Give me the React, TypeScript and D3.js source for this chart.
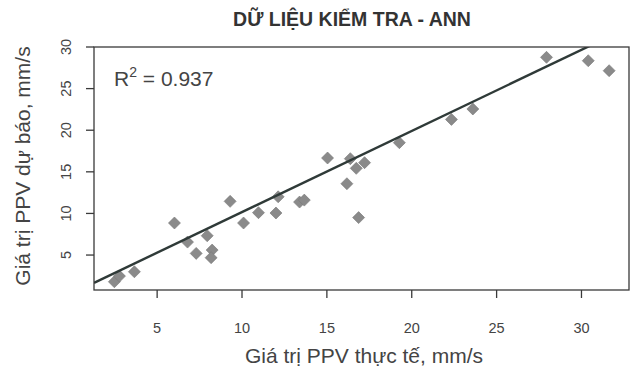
import React from 'react';
import * as d3 from 'd3';

// measured (actual) PPV, mm/s
const actual = [2.48, 2.78, 3.66, 6.02, 6.79, 7.3, 7.95, 8.24, 8.18, 9.3, 10.09, 10.97, 12.0, 12.13,
  13.39, 13.67, 15.04, 16.38, 16.18, 16.73, 16.87, 17.22, 19.27, 22.34, 23.6, 27.94, 30.4, 31.63];
// ANN predicted PPV, mm/s
const predicted = [1.79, 2.47, 2.99, 8.85, 6.56, 5.2, 7.32, 5.6, 4.68, 11.45, 8.85, 10.09, 10.05, 12.0,
  11.37, 11.6, 16.66, 16.58, 13.57, 15.42, 9.5, 16.1, 18.5, 21.3, 22.55, 28.76, 28.35, 27.15];

const xTicks = [5, 10, 15, 20, 25, 30];
const yTicks = [5, 10, 15, 20, 25, 30];

// fitted line
const fitSlope = 0.975;
const fitIntercept = 0.41;
const r2Label = '0.937';

const W = 637, H = 374;
const margin = { top: 47, right: 8, bottom: 84, left: 94 };

export default function App() {
  const x = d3.scaleLinear().domain([1.28, 32.8]).range([margin.left, W - margin.right]);
  const y = d3.scaleLinear().domain([0.8, 30]).range([H - margin.bottom, margin.top]);

  const pts = actual.map((a, i) => ({ a, p: predicted[i] }));
  const [x0, x1] = x.domain();
  const fitLine = d3.line<number>()
    .x(d => x(d))
    .y(d => y(fitSlope * d + fitIntercept));

  const diamond = d3.symbol().type(d3.symbolSquare).size(72)();
  const font = 'Liberation Sans, Arial, sans-serif';
  const ink = '#3a3a3a';
  const plotBottom = H - margin.bottom;

  return (
    <svg width={W} height={H} style={{ position: 'absolute', left: 0, top: 0, background: '#fff' }} fontFamily={font}>
      <defs>
        <clipPath id="plotclip">
          <rect x={margin.left} y={margin.top} width={W - margin.right - margin.left} height={plotBottom - margin.top} />
        </clipPath>
      </defs>

      <text x={352} y={26} textAnchor="middle" fontSize={19.5} fontWeight="bold" fill="#333">DỮ LIỆU KIỂM TRA - ANN</text>

      {/* points */}
      <g fill="#8a8a8a" stroke="#7a7a7a" strokeWidth={0.6}>
        {pts.map((d, i) => (
          <path key={i} d={diamond} transform={`translate(${x(d.a)},${y(d.p)}) rotate(45)`} />
        ))}
      </g>

      {/* fit line */}
      <path d={fitLine([x0, x1]) || ''} fill="none" stroke="#2f3a38" strokeWidth={2.4} clipPath="url(#plotclip)" />

      {/* box */}
      <rect x={margin.left} y={margin.top} width={W - margin.right - margin.left} height={plotBottom - margin.top}
        fill="none" stroke={ink} strokeWidth={1.3} />

      {/* x axis */}
      <g>
        {xTicks.map(t => (
          <g key={t} transform={`translate(${x(t)},0)`}>
            <line y1={plotBottom} y2={plotBottom + 8} stroke={ink} strokeWidth={1.3} />
            <text y={plotBottom + 43} textAnchor="middle" fontSize={14.5} fill="#444">{t}</text>
          </g>
        ))}
      </g>

      {/* y axis */}
      <g>
        {yTicks.map(t => (
          <g key={t} transform={`translate(0,${y(t)})`}>
            <line x1={margin.left - 8} x2={margin.left} stroke={ink} strokeWidth={1.3} />
            <text transform={`translate(${margin.left - 23},0) rotate(-90)`} textAnchor="middle" fontSize={14.5} fill="#444">{t}</text>
          </g>
        ))}
      </g>

      <text x={364} y={363} textAnchor="middle" fontSize={21} fill="#444">Giá trị PPV thực tế, mm/s</text>
      <text transform={`translate(30,166) rotate(-90)`} textAnchor="middle" fontSize={21} fill="#444">Giá trị PPV dự báo, mm/s</text>

      <text x={114} y={86} fontSize={21} fill="#444">
        R<tspan dy={-9} fontSize={14}>2</tspan><tspan dy={9}> = {r2Label}</tspan>
      </text>
    </svg>
  );
}
